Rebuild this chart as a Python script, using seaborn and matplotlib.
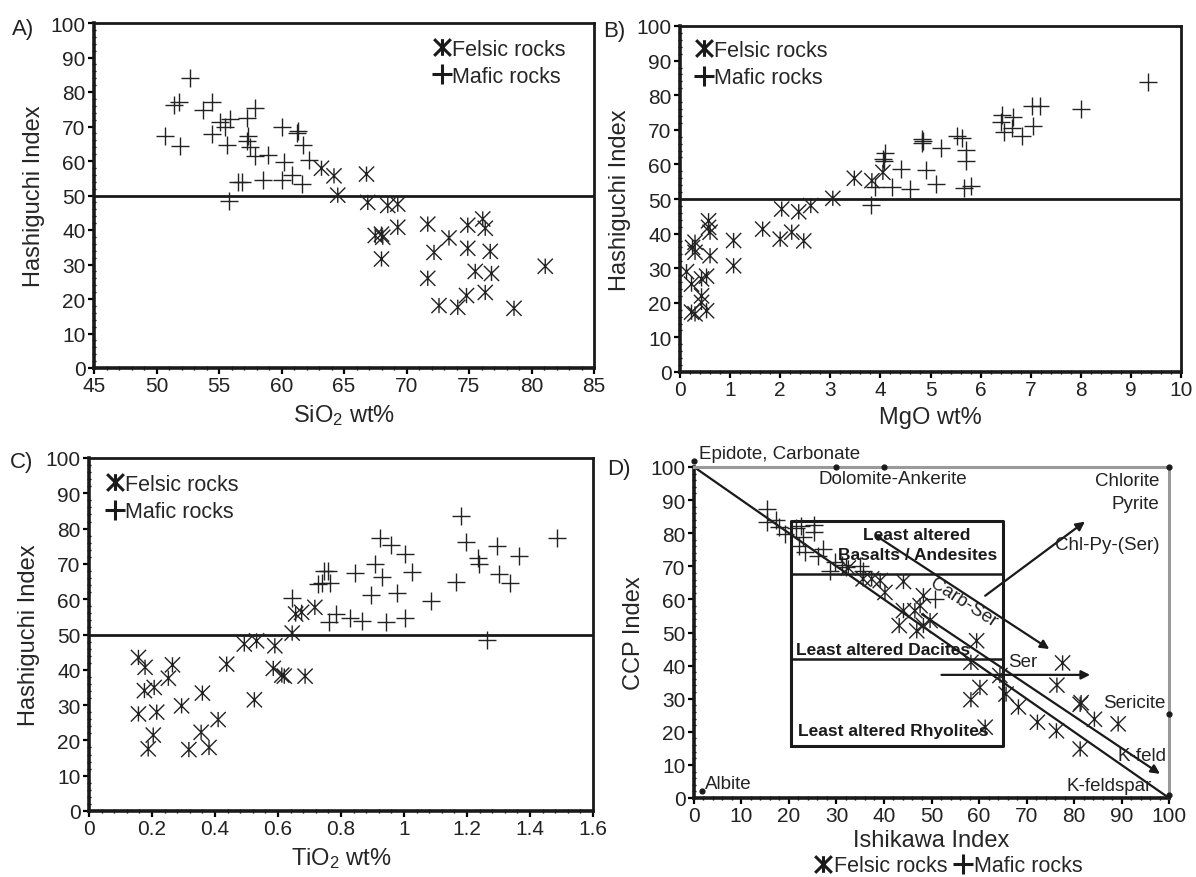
import matplotlib
matplotlib.use('Agg')
import matplotlib.pyplot as plt
import seaborn as sns
from matplotlib.path import Path
from matplotlib.lines import Line2D
from matplotlib.ticker import MultipleLocator, FuncFormatter

# ---------------- data ----------------
# Panel A : SiO2 wt% vs Hashiguchi Index
a_fel_x = [63.2, 64.2, 66.8, 64.5, 66.9, 68.5, 69.3, 69.3, 67.5, 68.0, 68.1, 68.0, 71.7, 72.2, 73.4,
           71.7, 72.6, 74.1, 74.8, 74.9, 74.9, 76.1, 76.3, 76.7, 75.5, 76.8, 76.3, 78.6, 81.1]
a_fel_y = [57.9, 55.7, 56.2, 50.1, 48.0, 47.1, 47.5, 40.8, 38.4, 38.8, 37.9, 31.6, 41.7, 33.5, 37.7,
           26.0, 18.1, 17.6, 21.0, 41.4, 34.7, 43.2, 40.5, 33.8, 28.0, 27.4, 21.9, 17.3, 29.5]
a_maf_x = [52.7, 51.4, 51.8, 50.7, 51.9, 53.7, 54.4, 55.1, 55.5, 55.9, 54.4, 55.6, 57.2, 57.9, 57.3,
           57.2, 57.5, 57.9, 58.9, 60.0, 61.2, 61.3, 61.7, 60.2, 62.2, 56.5, 56.8, 58.5, 60.0, 60.8,
           61.6, 55.8]
a_maf_y = [84.0, 76.2, 77.2, 67.2, 64.4, 74.9, 77.2, 71.4, 70.0, 72.2, 67.8, 64.6, 72.6, 75.3, 67.3,
           65.9, 64.0, 61.5, 61.8, 70.0, 68.1, 68.6, 64.6, 59.8, 60.4, 53.8, 53.8, 54.6, 54.6, 55.9,
           53.3, 48.5]

# Panel B : MgO wt% vs Hashiguchi Index
b_fel_x = [0.13, 0.23, 0.30, 0.53, 0.30, 0.30, 0.25, 0.43, 0.53, 0.23, 0.43, 0.43, 0.57, 0.57, 0.60,
           0.60, 1.07, 1.07, 1.65, 2.03, 2.00, 2.23, 2.37, 2.47, 2.61, 3.05, 3.48, 3.83, 4.05]
b_fel_y = [29.0, 17.3, 16.8, 17.7, 37.5, 34.6, 36.0, 26.9, 27.7, 25.4, 22.0, 20.1, 43.7, 41.8, 40.4,
           33.6, 38.0, 30.7, 41.3, 47.1, 38.4, 40.4, 46.3, 37.9, 48.1, 50.2, 56.0, 55.3, 57.7]
b_maf_x = [3.81, 3.90, 4.07, 4.10, 4.05, 4.23, 4.41, 4.60, 4.83, 4.83, 4.85, 4.92, 5.10, 5.20, 5.52,
           5.63, 5.70, 5.70, 5.67, 5.81, 6.43, 6.41, 6.47, 6.65, 6.63, 6.82, 7.05, 7.03, 7.19, 8.01,
           9.35]
b_maf_y = [48.3, 53.4, 60.9, 63.3, 61.7, 53.5, 58.7, 53.0, 66.2, 67.3, 66.7, 58.3, 54.4, 64.6, 68.1,
           67.5, 64.3, 61.1, 53.1, 53.9, 74.2, 72.3, 69.4, 73.7, 70.5, 68.3, 71.1, 77.0, 77.0, 76.0,
           83.7]

# Panel C : TiO2 wt% vs Hashiguchi Index
c_fel_x = [0.157, 0.178, 0.265, 0.252, 0.176, 0.207, 0.157, 0.215, 0.294, 0.360, 0.204, 0.188, 0.317,
           0.356, 0.381, 0.410, 0.437, 0.493, 0.532, 0.590, 0.525, 0.585, 0.612, 0.620, 0.686, 0.645,
           0.656, 0.675, 0.717]
c_fel_y = [43.5, 40.7, 41.4, 37.6, 34.1, 35.0, 27.5, 28.0, 29.8, 33.4, 21.5, 17.6, 17.4, 22.3, 18.0,
           25.9, 41.6, 47.3, 48.2, 46.8, 31.5, 40.4, 38.5, 38.2, 38.2, 50.4, 55.8, 56.3, 57.7]
c_maf_x = [0.645, 0.728, 0.745, 0.760, 0.740, 0.765, 0.784, 0.763, 0.830, 0.866, 0.943, 1.003, 0.844,
           0.894, 0.908, 0.924, 0.958, 1.003, 0.929, 0.977, 1.024, 1.085, 1.164, 1.180, 1.197, 1.236,
           1.239, 1.294, 1.366, 1.303, 1.337, 1.264, 1.487]
c_maf_y = [60.3, 64.3, 68.1, 68.1, 64.6, 64.6, 55.8, 53.5, 54.6, 53.9, 53.4, 54.6, 67.4, 61.3, 70.0,
           77.3, 75.4, 72.8, 66.2, 61.8, 67.6, 59.6, 64.8, 83.7, 76.1, 71.6, 70.0, 75.0, 72.1, 67.1,
           64.6, 48.5, 77.3]

# Panel D : Ishikawa Index vs CCP Index (alteration box plot)
d_fel_x = [32.5, 35.6, 37.4, 39.2, 40.2, 44.1, 48.3, 47.6, 44.1, 46.5, 43.2, 46.9, 48.3, 49.7, 59.5,
           58.3, 60.2, 58.3, 64.4, 65.7, 68.3, 72.3, 76.3, 76.4, 77.6, 81.5, 81.3, 84.3, 89.3, 61.3,
           81.3]
d_fel_y = [69.5, 66.2, 66.2, 65.7, 62.1, 65.4, 61.1, 58.1, 56.6, 56.6, 52.1, 50.5, 52.1, 53.6, 47.5,
           41.0, 33.4, 29.7, 37.0, 31.4, 27.5, 22.9, 20.3, 34.1, 40.8, 28.8, 14.8, 23.8, 22.4, 21.4,
           28.3]
d_maf_x = [15.3, 15.3, 17.3, 18.0, 19.2, 21.5, 22.5, 25.3, 25.3, 22.2, 23.4, 27.2, 26.2, 23.0, 28.6,
           29.7, 31.1, 32.1, 34.9, 35.6, 50.7]
d_maf_y = [87.3, 83.3, 84.1, 81.8, 79.8, 81.5, 82.1, 82.5, 80.3, 76.2, 74.4, 75.2, 73.2, 78.8, 68.7,
           71.2, 70.4, 69.7, 70.2, 68.7, 60.1]

# reference geometry of the box plot
d_diag_x = [0, 100]
d_diag_y = [100, 0]
d_box_x = [20.4, 65.0]
d_box_y = [15.8, 83.8]
d_box_dividers = [67.7, 42.0]
d_arrows = [((38.8, 78.8), (74.8, 45.0)),   # Carb-Ser
            ((61.3, 61.1), (82.3, 83.5)),   # Chl-Py-(Ser)
            ((52.1, 37.2), (83.4, 37.2)),   # Ser
            ((48.0, 55.5), (98.1, 7.3))]    # K-feld
d_dot_x = [0, 30, 40, 100, 100, 100, 1.6, 38.8]
d_dot_y = [101.8, 100, 100, 100, 25.4, 1.0, 2.2, 78.8]

hashiguchi_threshold = 50
legend_labels = ['Felsic rocks', 'Mafic rocks']

# ---------------- style ----------------
sns.set_style('ticks')
plt.rcParams['font.family'] = ['Liberation Sans', 'DejaVu Sans']
plt.rcParams['mathtext.fontset'] = 'custom'
plt.rcParams['mathtext.rm'] = 'Liberation Sans'
plt.rcParams['mathtext.it'] = 'Liberation Sans:italic'
plt.rcParams['mathtext.bf'] = 'Liberation Sans:bold'
plt.rcParams['mathtext.default'] = 'regular'

ASTER = Path([(-0.5, -0.5), (0.5, 0.5), (-0.5, 0.5), (0.5, -0.5), (0, -0.5), (0, 0.5)],
             [Path.MOVETO, Path.LINETO, Path.MOVETO, Path.LINETO, Path.MOVETO, Path.LINETO])

TICK_FS = 15
LABEL_FS = 17
LEG_FS = 15.5
ANN_FS = 13.5

W, H = 1196, 878
fig = plt.figure(figsize=(W / 100, H / 100), dpi=100)


def px_axes(l, t, r, b):
    return fig.add_axes([l / W, 1 - b / H, (r - l) / W, (b - t) / H])


def style(ax, xlim, ylim, xmaj, xmin, ymaj, ymin, gray=False):
    ax.set_xlim(*xlim)
    ax.set_ylim(*ylim)
    ax.xaxis.set_major_locator(MultipleLocator(xmaj))
    ax.xaxis.set_minor_locator(MultipleLocator(xmin))
    ax.yaxis.set_major_locator(MultipleLocator(ymaj))
    ax.yaxis.set_minor_locator(MultipleLocator(ymin))
    ax.xaxis.set_major_formatter(FuncFormatter(lambda v, p: '%g' % round(v, 6)))
    ax.yaxis.set_major_formatter(FuncFormatter(lambda v, p: '%g' % round(v, 6)))
    ax.tick_params(which='major', direction='out', length=4, width=1.6, labelsize=TICK_FS,
                   pad=2, color='k', labelcolor='#222222')
    ax.tick_params(which='minor', direction='inout', length=2.5, width=1.0, color='k')
    for s in ['left', 'bottom']:
        ax.spines[s].set_linewidth(2.6)
        ax.spines[s].set_color('#1a1a1a')
    for s in ['top', 'right']:
        ax.spines[s].set_visible(True)
        ax.spines[s].set_linewidth(2.0 if not gray else 2.2)
        ax.spines[s].set_color('#1a1a1a' if not gray else '#9a9a9a')


def scatter_groups(ax, fx, fy, mx, my):
    sns.scatterplot(x=fx, y=fy, marker=ASTER, s=120, facecolor='none', edgecolor='#222222',
                    linewidth=1.0, ax=ax, legend=False, zorder=3)
    sns.scatterplot(x=mx, y=my, marker='+', s=150, color='#222222', linewidth=1.0, ax=ax,
                    legend=False, zorder=3)


fel_h = Line2D([], [], marker=ASTER, ls='none', color='#1a1a1a', markersize=12, markeredgewidth=2.2)
maf_h = Line2D([], [], marker='+', ls='none', color='#1a1a1a', markersize=15, markeredgewidth=2.2)


def add_legend(ax, x, y):
    ax.legend([fel_h, maf_h], legend_labels, loc='upper left', bbox_to_anchor=(x, y),
              frameon=False, fontsize=LEG_FS, handlelength=0.7, handletextpad=0.15,
              labelspacing=0.3, borderpad=0, borderaxespad=0)


# ---- Panel A ----
axA = px_axes(94, 24, 594, 369)
scatter_groups(axA, a_fel_x, a_fel_y, a_maf_x, a_maf_y)
axA.axhline(hashiguchi_threshold, color='#1a1a1a', lw=2.0, zorder=2)
style(axA, (45, 85), (0, 100), 5, 1, 10, 2)
axA.set_xlabel('SiO$_2$ wt%', fontsize=LABEL_FS, labelpad=5)
axA.set_ylabel('Hashiguchi Index', fontsize=LABEL_FS, labelpad=4)
add_legend(axA, 0.68, 0.955)

# ---- Panel B ----
axB = px_axes(680, 27, 1181, 373)
scatter_groups(axB, b_fel_x, b_fel_y, b_maf_x, b_maf_y)
axB.axhline(hashiguchi_threshold, color='#1a1a1a', lw=2.0, zorder=2)
style(axB, (0, 10), (0, 100), 1, 0.2, 10, 2)
axB.set_xlabel('MgO wt%', fontsize=LABEL_FS, labelpad=5)
axB.set_ylabel('Hashiguchi Index', fontsize=LABEL_FS, labelpad=4)
add_legend(axB, 0.032, 0.96)

# ---- Panel C ----
axC = px_axes(89, 459, 593, 812)
scatter_groups(axC, c_fel_x, c_fel_y, c_maf_x, c_maf_y)
axC.axhline(hashiguchi_threshold, color='#1a1a1a', lw=2.0, zorder=2)
style(axC, (0, 1.6), (0, 100), 0.2, 0.04, 10, 2)
axC.set_xlabel('TiO$_2$ wt%', fontsize=LABEL_FS, labelpad=5)
axC.set_ylabel('Hashiguchi Index', fontsize=LABEL_FS, labelpad=4)
add_legend(axC, 0.036, 0.955)

# ---- Panel D ----
axD = px_axes(694, 468, 1169, 799)
sns.lineplot(x=d_diag_x, y=d_diag_y, color='#1a1a1a', lw=1.6, ax=axD, zorder=2)
axD.plot([d_box_x[0], d_box_x[1], d_box_x[1], d_box_x[0], d_box_x[0]],
         [d_box_y[0], d_box_y[0], d_box_y[1], d_box_y[1], d_box_y[0]], color='#1a1a1a', lw=2.2, zorder=2)
for yv in d_box_dividers:
    axD.plot(d_box_x, [yv, yv], color='#1a1a1a', lw=1.8, zorder=2)
for (x0, y0), (x1, y1) in d_arrows:
    axD.annotate('', xy=(x1, y1), xytext=(x0, y0),
                 arrowprops=dict(arrowstyle='-|>', color='#1a1a1a', lw=1.6, mutation_scale=13,
                                 shrinkA=0, shrinkB=0), zorder=2)
scatter_groups(axD, d_fel_x, d_fel_y, d_maf_x, d_maf_y)
axD.scatter(d_dot_x, d_dot_y, s=12, color='#1a1a1a', zorder=4, clip_on=False)
style(axD, (0, 100), (0, 100), 10, 2, 10, 2, gray=True)
axD.set_xlabel('Ishikawa Index', fontsize=LABEL_FS, labelpad=3)
axD.set_ylabel('CCP Index', fontsize=LABEL_FS, labelpad=4)

tk = dict(fontsize=ANN_FS, color='#222222', va='center', clip_on=False)
axD.text(1.0, 104.0, 'Epidote, Carbonate', ha='left', **tk)
axD.text(26.2, 96.6, 'Dolomite-Ankerite', ha='left', **tk)
axD.text(98.0, 95.9, 'Chlorite', ha='right', **tk)
axD.text(98.0, 89.0, 'Pyrite', ha='right', **tk)
axD.text(98.0, 76.7, 'Chl-Py-(Ser)', ha='right', **tk)
axD.text(66.2, 41.2, 'Ser', ha='left', **tk)
axD.text(99.2, 28.9, 'Sericite', ha='right', **tk)
axD.text(99.5, 12.8, 'K-feld', ha='right', **tk)
axD.text(96.4, 3.9, 'K-feldspar', ha='right', **tk)
axD.text(2.3, 4.4, 'Albite', ha='left', **tk)
axD.text(56.7, 59.1, 'Carb-Ser', ha='center', rotation=-33, rotation_mode='anchor', **tk)

bk = dict(fontsize=12.5, fontweight='bold', color='#1a1a1a', va='center')
axD.text(46.8, 79.5, 'Least altered', ha='center', **bk)
axD.text(47.0, 73.5, 'Basalts / Andesites', ha='center', **bk)
axD.text(21.5, 45.0, 'Least altered Dacites', ha='left', **bk)
axD.text(22.0, 20.3, 'Least altered Rhyolites', ha='left', **bk)

fig.legend([fel_h, maf_h], legend_labels, loc='center', bbox_to_anchor=(949 / W, 1 - 867 / H),
           ncol=2, frameon=False, fontsize=LEG_FS, handlelength=0.7, handletextpad=0.15,
           columnspacing=0.4, borderpad=0, borderaxespad=0)

# panel letters
for lab, x, y in [('A)', 12, 29), ('B)', 603, 31), ('C)', 10, 463), ('D)', 607, 470)]:
    fig.text(x / W, 1 - y / H, lab, fontsize=16, ha='left', va='center', color='#222222')

fig.savefig('out.png', dpi=100)
